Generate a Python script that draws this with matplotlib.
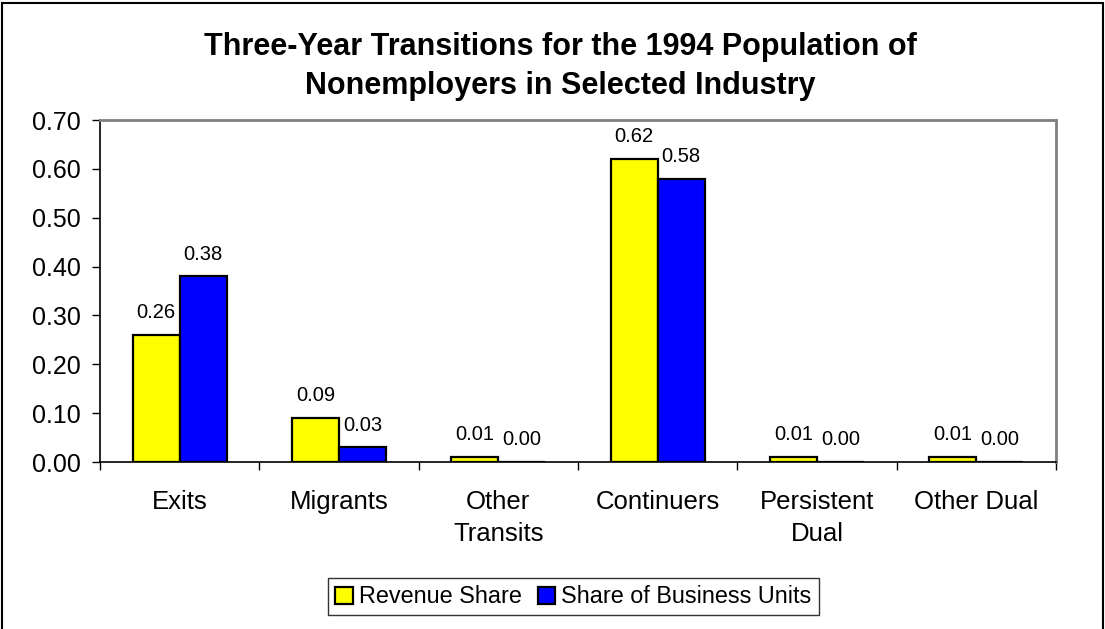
import matplotlib
matplotlib.use("Agg")
import matplotlib.pyplot as plt
import numpy as np

categories = ["Exits", "Migrants", "Other\nTransits", "Continuers", "Persistent\nDual", "Other Dual"]
revenue_share = [0.26, 0.09, 0.01, 0.62, 0.01, 0.01]
unit_share = [0.38, 0.03, 0.00, 0.58, 0.00, 0.00]
yticks = [0.0, 0.1, 0.2, 0.3, 0.4, 0.5, 0.6, 0.7]

plt.rcParams["font.family"] = ["Liberation Sans", "DejaVu Sans"]

fig = plt.figure(figsize=(11.05, 6.29), dpi=100)
ax = fig.add_axes([0.0905, 0.2655, 0.8652, 0.5437])

x = np.arange(len(categories))
w = 0.295
b1 = ax.bar(x - w/2, revenue_share, w, color="#ffff00", edgecolor="black", linewidth=1.6, label="Revenue Share")
b2 = ax.bar(x + w/2, unit_share, w, color="#0000ff", edgecolor="black", linewidth=1.6, label="Share of Business Units")

# value labels above every bar
for bars, vals in ((b1, revenue_share), (b2, unit_share)):
    for r, v in zip(bars, vals):
        ax.annotate("%.2f" % v, (r.get_x() + r.get_width()/2, r.get_height()),
                    xytext=(0, 12), textcoords="offset points", ha="center", va="baseline", fontsize=14.5)

ax.set_xlim(-0.5, len(categories) - 0.5)
ax.set_ylim(0, 0.7)
ax.set_yticks(yticks)
ax.set_yticklabels(["%.2f" % t for t in yticks], fontsize=18)
ax.set_xticks(x)
ax.set_xticklabels(categories, fontsize=18.5, linespacing=1.4)
ax.set_xticks(np.arange(len(categories) + 1) - 0.5, minor=True)
ax.tick_params(axis="x", which="major", length=0, pad=20.5)
ax.tick_params(axis="x", which="minor", length=6, width=1, direction="out")
ax.tick_params(axis="y", length=6, width=1, direction="out", pad=8)

for s in ("left", "bottom"):
    ax.spines[s].set_color("black")
    ax.spines[s].set_linewidth(1.2)
for s in ("top", "right"):
    ax.spines[s].set_color("#808080")
    ax.spines[s].set_linewidth(2)

fig.text(0.507, 0.894, "Three-Year Transitions for the 1994 Population of\nNonemployers in Selected Industry",
         ha="center", va="center", fontsize=22, fontweight="bold", linespacing=1.4)

leg = fig.legend(handles=[b1, b2], loc="center", bbox_to_anchor=(0.519, 0.0509), ncol=2,
                 fontsize=16.8, frameon=True, fancybox=False, edgecolor="black",
                 handlelength=0.75, handleheight=0.75, handletextpad=0.25, columnspacing=0.7,
                 borderpad=0.3, borderaxespad=0)
leg.get_frame().set_linewidth(1.0)

fig.patches.append(plt.Rectangle((0.002, -0.01), 0.996, 1.006, transform=fig.transFigure,
                                 fill=False, edgecolor="black", linewidth=1.5))

fig.savefig("out.png", dpi=100)
